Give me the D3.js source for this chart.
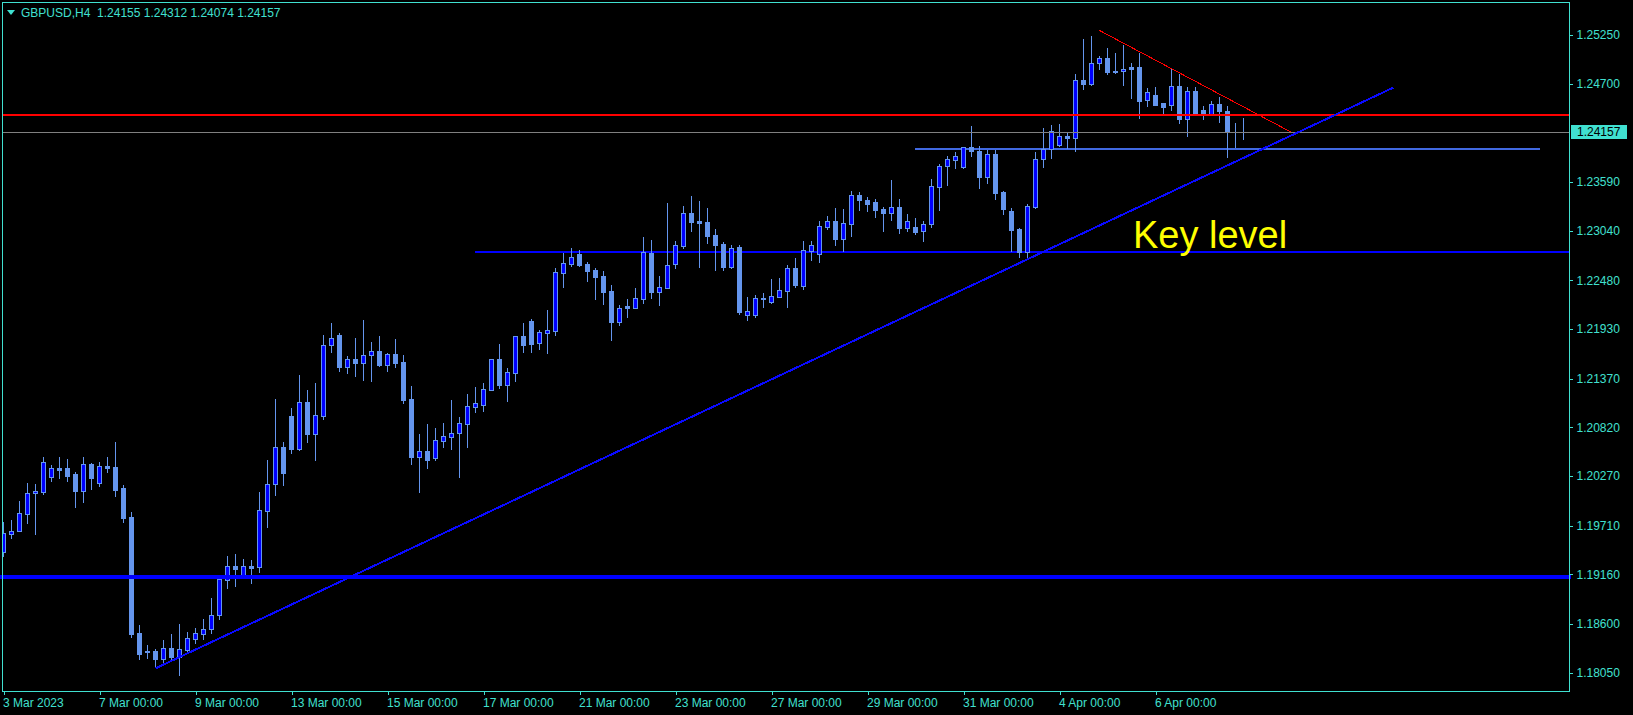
<!DOCTYPE html>
<html><head><meta charset="utf-8">
<script src="https://cdn.jsdelivr.net/npm/d3@7"></script>
<style>html,body{margin:0;padding:0;background:#000;}svg{display:block;}</style>
</head><body>
<script>
// ---- data (GBPUSD H4) ----
const symbolTitle = "GBPUSD,H4  1.24155 1.24312 1.24074 1.24157";
const openP = [1.19416,1.19620,1.19646,1.19845,1.20075,1.20094,1.20256,1.20361,1.20357,1.20293,
1.20105,1.20406,1.20195,1.20380,1.20372,1.20131,1.19804,1.18498,1.18291,1.18295,
1.18208,1.18325,1.18223,1.18310,1.18430,1.18490,1.18540,1.18697,1.19100,1.19254,
1.19157,1.19254,1.19239,1.19879,1.20177,1.20594,1.20948,1.20579,1.21103,1.20749,
1.20952,1.21746,1.21863,1.21505,1.21588,1.21543,1.21633,1.21682,1.21527,1.21648,
1.21557,1.21140,1.20488,1.20552,1.20477,1.20669,1.20714,1.20752,1.20861,1.21053,
1.21076,1.21245,1.21591,1.21301,1.21437,1.21851,1.22020,1.21776,1.21889,1.21911,
1.22566,1.22668,1.22777,1.22664,1.22596,1.22528,1.22359,1.22013,1.22190,1.22171,
1.22273,1.22792,1.22352,1.22397,1.22668,1.22871,1.23236,1.23150,1.23138,1.22991,
1.22890,1.22634,1.22856,1.22092,1.22092,1.22280,1.22238,1.22295,1.22363,1.22619,
1.22419,1.22814,1.22781,1.23085,1.23149,1.22950,1.23119,1.23439,1.23387,1.23364,
1.23285,1.23243,1.23304,1.23074,1.23078,1.23040,1.23112,1.23538,1.23767,1.23842,
1.23763,1.23982,1.23940,1.23650,1.23906,1.23477,1.23259,1.23059,1.22804,1.23312,
1.23846,1.23963,1.24012,1.24110,1.24091,1.24738,1.24701,1.24930,1.24987,1.24844,
1.24840,1.24893,1.24889,1.24512,1.24573,1.24479,1.24456,1.24670,1.24305,1.24618,
1.24399,1.24362,1.24471,1.24392,1.24150,1.24155];
const highP = [1.19755,1.19774,1.19988,1.20188,1.20177,1.20485,1.20391,1.20485,1.20459,1.20312,
1.20485,1.20414,1.20425,1.20485,1.20651,1.20165,1.19864,1.18588,1.18359,1.18313,
1.18419,1.18483,1.18599,1.18509,1.18554,1.18656,1.18893,1.19119,1.19367,1.19390,
1.19330,1.19322,1.20090,1.20451,1.21140,1.20655,1.21039,1.21411,1.21242,1.21321,
1.21863,1.21998,1.21885,1.21626,1.21829,1.22032,1.21784,1.21851,1.21655,1.21817,
1.21636,1.21286,1.20744,1.20857,1.20812,1.20869,1.21128,1.20936,1.21196,1.21275,
1.21317,1.21595,1.21761,1.21490,1.21855,1.21998,1.22043,1.21919,1.22145,1.22619,
1.22792,1.22845,1.22822,1.22687,1.22619,1.22585,1.22431,1.22201,1.22269,1.22393,
1.22973,1.22935,1.22528,1.23353,1.22924,1.23319,1.23432,1.23375,1.23296,1.23059,
1.22912,1.22875,1.22879,1.22291,1.22314,1.22336,1.22494,1.22506,1.22649,1.22732,
1.22924,1.22924,1.23149,1.23206,1.23296,1.23285,1.23488,1.23477,1.23417,1.23394,
1.23311,1.23609,1.23394,1.23228,1.23180,1.23153,1.23624,1.23793,1.23888,1.23929,
1.23989,1.24223,1.23997,1.23952,1.23952,1.23485,1.23297,1.23075,1.23338,1.23929,
1.24200,1.24234,1.24245,1.24151,1.24806,1.25205,1.25235,1.25013,1.25103,1.25047,
1.25137,1.24934,1.25047,1.24652,1.24663,1.24486,1.24870,1.24806,1.24663,1.24663,
1.24448,1.24505,1.24550,1.24448,1.24256,1.24312];
const lowP = [1.19371,1.19574,1.19744,1.19744,1.19620,1.20067,1.20214,1.20252,1.20218,1.19924,
1.19981,1.20128,1.20158,1.20316,1.20045,1.19751,1.18456,1.18208,1.18219,1.18114,
1.18155,1.18193,1.18024,1.18287,1.18390,1.18430,1.18500,1.18660,1.19010,1.19032,
1.19134,1.19066,1.19190,1.19699,1.20060,1.20173,1.20534,1.20564,1.20658,1.20455,
1.20918,1.21675,1.21460,1.21437,1.21404,1.21358,1.21347,1.21512,1.21460,1.21505,
1.21098,1.20409,1.20093,1.20360,1.20451,1.20601,1.20575,1.20259,1.20598,1.20993,
1.21004,1.21237,1.21264,1.21117,1.21343,1.21670,1.21670,1.21704,1.21659,1.21862,
1.22404,1.22641,1.22645,1.22472,1.22269,1.22212,1.21806,1.21975,1.22069,1.22163,
1.22227,1.22284,1.22201,1.22389,1.22623,1.22841,1.23037,1.22634,1.22905,1.22596,
1.22600,1.22623,1.22099,1.22031,1.22069,1.22182,1.22223,1.22288,1.22182,1.22408,
1.22385,1.22709,1.22690,1.23063,1.22878,1.22811,1.22980,1.23274,1.23262,1.23195,
1.23036,1.23164,1.23018,1.23036,1.23006,1.22924,1.23078,1.23274,1.23556,1.23748,
1.23752,1.23888,1.23526,1.23583,1.23402,1.23233,1.22811,1.22747,1.22736,1.23300,
1.23763,1.23865,1.23997,1.23970,1.23940,1.24640,1.24686,1.24870,1.24810,1.24825,
1.24686,1.24542,1.24317,1.24448,1.24460,1.24354,1.24403,1.24260,1.24113,1.24354,
1.24305,1.24354,1.24271,1.23876,1.23989,1.24074];
const closeP = [1.19623,1.19646,1.19849,1.20075,1.20101,1.20425,1.20357,1.20338,1.20274,1.20105,
1.20402,1.20252,1.20380,1.20361,1.20116,1.19800,1.18490,1.18264,1.18280,1.18204,
1.18325,1.18227,1.18313,1.18438,1.18500,1.18543,1.18701,1.19104,1.19251,1.19224,
1.19251,1.19236,1.19883,1.20177,1.20594,1.20308,1.20579,1.21103,1.20749,1.20956,
1.21746,1.21825,1.21505,1.21588,1.21543,1.21633,1.21678,1.21524,1.21644,1.21550,
1.21128,1.20485,1.20549,1.20455,1.20673,1.20718,1.20752,1.20865,1.21057,1.21091,
1.21249,1.21588,1.21298,1.21441,1.21847,1.21749,1.21764,1.21892,1.21919,1.22570,
1.22672,1.22743,1.22653,1.22589,1.22517,1.22348,1.22013,1.22167,1.22171,1.22276,
1.22803,1.22348,1.22404,1.22649,1.22875,1.23236,1.23138,1.23131,1.22980,1.22879,
1.22630,1.22841,1.22122,1.22129,1.22276,1.22269,1.22299,1.22366,1.22615,1.22427,
1.22818,1.22875,1.23089,1.23149,1.22950,1.23123,1.23439,1.23387,1.23341,1.23274,
1.23243,1.23304,1.23074,1.23146,1.23029,1.23112,1.23541,1.23767,1.23846,1.23880,
1.23982,1.23944,1.23650,1.23903,1.23470,1.23289,1.23052,1.22804,1.23315,1.23846,
1.23959,1.24162,1.24106,1.24091,1.24738,1.24701,1.24930,1.24987,1.24836,1.24832,
1.24866,1.24870,1.24509,1.24606,1.24463,1.24441,1.24670,1.24305,1.24618,1.24369,
1.24354,1.24471,1.24392,1.24151,1.24155,1.24157];

const yTickValues = [1.25250,1.24700,1.23590,1.23040,1.22480,1.21930,1.21370,1.20820,1.20270,1.19710,1.19160,1.18600,1.18050];
const xTickIndex = [0,12,24,36,48,60,72,84,96,108,120,132,144];
const xTickLabels = ["3 Mar 2023","7 Mar 00:00","9 Mar 00:00","13 Mar 00:00","15 Mar 00:00","17 Mar 00:00","21 Mar 00:00","23 Mar 00:00","27 Mar 00:00","29 Mar 00:00","31 Mar 00:00","4 Apr 00:00","6 Apr 00:00"];
const currentPrice = 1.24157;
// horizontal levels: [price, fromIndex, toIndex]
const redLevel = [1.24350, -1, 200];
const resistLevel = [1.23966, 113.9, 192.1];
const keyLevel = [1.22803, 58.9, 200];
const supportLevel = [1.19130, -1, 200];
// trend lines: [[index, price],[index, price]]
const upTrend = [[19.0, 1.18099],[173.75, 1.24657]];
const downTrend = [[136.9, 1.25306],[161.0, 1.24151]];
const keyLabel = "Key level";

// ---- drawing ----
const W = 1633, H = 715;
const TURQ = "#40e0d0", LIGHT = "#6495ed", BLUE = "#0000ff";
const FONT = "'Liberation Sans', Arial, sans-serif";
const plotL = 2.5, plotR = 1569.5, plotT = 2.5, plotB = 691.5;

const svg = d3.select("body").append("svg").attr("width", W).attr("height", H)
  .style("background", "#000").attr("shape-rendering", "crispEdges");

const x = d3.scaleLinear().domain([0, 195.75]).range([3.5, 1569.5]);
const y = d3.scaleLinear().domain([1.18050, 1.25250]).range([672.7, 35]);

svg.append("defs").append("clipPath").attr("id", "plotclip")
  .append("rect").attr("x", 3).attr("y", 3).attr("width", plotR - 3.5).attr("height", plotB - 3.5);

const plot = svg.append("g").attr("clip-path", "url(#plotclip)");

function hline(g, lvl, color, width, extendRight) {
  const yy = width % 2 === 1 ? Math.round(y(lvl[0])) + 0.5 : Math.round(y(lvl[0]));
  g.append("line").attr("x1", Math.max(0, x(lvl[1]))).attr("x2", extendRight ? extendRight : x(lvl[2]))
    .attr("y1", yy).attr("y2", yy).attr("stroke", color).attr("stroke-width", width);
}

// key level, resistance & red level (behind candles)
hline(plot, keyLevel, BLUE, 2);
hline(plot, resistLevel, "#4169e1", 2);

// candles
const idx = d3.range(openP.length);
const cg = plot.append("g");
cg.selectAll("line.wick").data(idx).join("line").attr("class", "wick")
  .attr("x1", i => x(i)).attr("x2", i => x(i))
  .attr("y1", i => Math.round(y(highP[i]))).attr("y2", i => Math.round(y(lowP[i])) + 1)
  .attr("stroke", LIGHT).attr("stroke-width", 1);
cg.selectAll("rect.body").data(idx).join("rect").attr("class", "body")
  .attr("x", i => x(i) - 2)
  .attr("width", 4)
  .attr("y", i => Math.round(y(Math.max(openP[i], closeP[i]))) + 0.5)
  .attr("height", i => Math.round(y(Math.min(openP[i], closeP[i]))) - Math.round(y(Math.max(openP[i], closeP[i]))))
  .attr("fill", i => closeP[i] > openP[i] ? BLUE : LIGHT)
  .attr("stroke", LIGHT).attr("stroke-width", 1);

// other lines
hline(plot, redLevel, "#ff0000", 2);
hline(plot, [currentPrice, -1, 200], "#808080", 1);

const lineGen = d3.line().x(d => x(d[0])).y(d => y(d[1]));
plot.append("path").attr("d", lineGen(upTrend)).attr("fill", "none")
  .attr("stroke", "#0a0aff").attr("stroke-width", 2);
plot.append("path").attr("d", lineGen(downTrend)).attr("fill", "none")
  .attr("stroke", "#ff0000").attr("stroke-width", 1);

// thick support line (reaches slightly past the axis line)
hline(svg, supportLevel, BLUE, 4, 1571);

// key level label
svg.append("text").attr("x", 1133).attr("y", 248).text(keyLabel)
  .attr("fill", "#ffff00").attr("font-family", FONT).attr("font-size", 38)
  .attr("shape-rendering", "auto");

// frame
svg.append("rect").attr("x", plotL).attr("y", plotT).attr("width", plotR - plotL).attr("height", plotB - plotT)
  .attr("fill", "none").attr("stroke", TURQ).attr("stroke-width", 1);

// y axis
const yAxis = d3.axisRight(y).tickValues(yTickValues).tickSize(3).tickPadding(4).tickFormat(d3.format(".5f"));
const ya = svg.append("g").attr("transform", `translate(${plotR},0)`).call(yAxis);
ya.select(".domain").remove();
ya.selectAll(".tick line").attr("stroke", TURQ);
ya.selectAll("text").attr("fill", TURQ).attr("font-family", FONT).attr("font-size", 12);

// x axis
const xAxis = d3.axisBottom(x).tickValues(xTickIndex).tickSize(3).tickFormat((d, i) => xTickLabels[i]);
const xa = svg.append("g").attr("transform", `translate(0,${plotB})`).call(xAxis);
xa.select(".domain").remove();
xa.selectAll(".tick line").attr("stroke", TURQ);
xa.selectAll("text").attr("fill", TURQ).attr("font-family", FONT).attr("font-size", 12)
  .attr("text-anchor", "start").attr("x", -1).attr("dy", 0).attr("y", 15.5);

// current price tag
const cpY = y(currentPrice);
svg.append("rect").attr("x", 1571).attr("y", Math.round(cpY) - 7).attr("width", 56).attr("height", 14).attr("fill", TURQ);
svg.append("text").attr("x", 1577).attr("y", cpY).attr("dy", "0.35em").text(d3.format(".5f")(currentPrice))
  .attr("fill", "#000").attr("font-family", FONT).attr("font-size", 12);

// title
svg.append("path").attr("d", "M7,10L15,10L11,15Z").attr("fill", TURQ).attr("shape-rendering", "auto");
svg.append("text").attr("x", 21).attr("y", 17).attr("xml:space", "preserve").style("white-space", "pre")
  .text(symbolTitle).attr("fill", TURQ).attr("font-family", FONT).attr("font-size", 12);
</script>
</body></html>
